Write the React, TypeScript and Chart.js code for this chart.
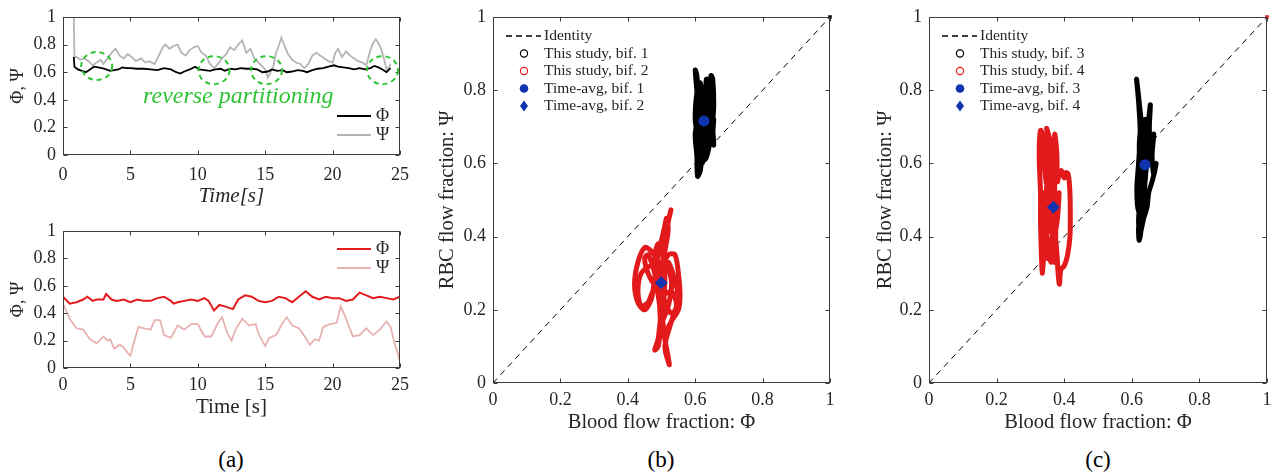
import React, { useEffect, useRef } from "react";
import { Chart, registerables } from "chart.js";
Chart.register(...registerables);

type Pt = [number, number];

// ---------------- data ----------------
const timeTicks = [0, 5, 10, 15, 20, 25];
const timeTickLabels = ["0", "5", "10", "15", "20", "25"];
const fracTicks = [0, 0.2, 0.4, 0.6, 0.8, 1];
const fracTickLabels = ["0", "0.2", "0.4", "0.6", "0.8", "1"];

// panel (a) top: bifurcation with reverse partitioning (time [s], value)
const phiTop: Pt[] = [
  [0.8, 0.71], [0.85, 0.64], [1.1, 0.62], [1.4, 0.61], [1.7, 0.6], [2.0, 0.62], [2.3, 0.64], [2.6, 0.635],
  [2.9, 0.63], [3.2, 0.62], [3.5, 0.61], [3.8, 0.615], [4.1, 0.62], [4.4, 0.635], [4.7, 0.63], [5.0, 0.63],
  [5.5, 0.625], [6.0, 0.625], [6.5, 0.62], [7.0, 0.615], [7.5, 0.63], [8.0, 0.62], [8.4, 0.6], [8.7, 0.59],
  [9.0, 0.605], [9.4, 0.62], [9.8, 0.64], [10.1, 0.62], [10.5, 0.615], [10.9, 0.61], [11.3, 0.62], [11.7, 0.625],
  [12.0, 0.61], [12.4, 0.625], [12.8, 0.62], [13.2, 0.63], [13.6, 0.625], [14.0, 0.625], [14.4, 0.62], [14.8, 0.6],
  [15.2, 0.605], [15.5, 0.62], [15.9, 0.61], [16.3, 0.615], [16.6, 0.6], [17.0, 0.605], [17.4, 0.615], [17.8, 0.61],
  [18.1, 0.6], [18.5, 0.615], [18.9, 0.625], [19.3, 0.63], [19.7, 0.64], [20.1, 0.65], [20.4, 0.64], [20.8, 0.635],
  [21.2, 0.63], [21.6, 0.62], [22.0, 0.63], [22.4, 0.62], [22.8, 0.63], [23.1, 0.645], [23.4, 0.635], [23.7, 0.62],
  [24.0, 0.6], [24.3, 0.63],
];
const psiTop: Pt[] = [
  [0.8, 1.0], [0.85, 0.71], [1.0, 0.71], [1.3, 0.69], [1.6, 0.7], [1.9, 0.68], [2.2, 0.65], [2.5, 0.67],
  [2.8, 0.69], [3.0, 0.66], [3.3, 0.7], [3.6, 0.74], [3.9, 0.77], [4.2, 0.72], [4.5, 0.7], [4.8, 0.73],
  [5.1, 0.71], [5.4, 0.68], [5.8, 0.7], [6.1, 0.67], [6.4, 0.68], [6.8, 0.66], [7.1, 0.72], [7.4, 0.78],
  [7.6, 0.8], [7.9, 0.77], [8.2, 0.79], [8.5, 0.8], [8.8, 0.74], [9.1, 0.72], [9.4, 0.76], [9.7, 0.78],
  [10.0, 0.79], [10.3, 0.74], [10.6, 0.72], [10.9, 0.66], [11.2, 0.63], [11.5, 0.66], [11.8, 0.7], [12.1, 0.73],
  [12.4, 0.78], [12.7, 0.76], [13.0, 0.8], [13.3, 0.83], [13.6, 0.74], [13.9, 0.77], [14.2, 0.7], [14.5, 0.67],
  [14.8, 0.64], [15.0, 0.62], [15.2, 0.56], [15.4, 0.6], [15.6, 0.64], [15.8, 0.74], [16.0, 0.79], [16.2, 0.85],
  [16.4, 0.8], [16.7, 0.73], [17.0, 0.69], [17.3, 0.67], [17.6, 0.66], [17.9, 0.63], [18.2, 0.66], [18.5, 0.72],
  [18.8, 0.74], [19.1, 0.72], [19.4, 0.7], [19.7, 0.68], [20.0, 0.67], [20.2, 0.74], [20.4, 0.77], [20.7, 0.71],
  [21.0, 0.75], [21.3, 0.72], [21.6, 0.7], [21.9, 0.68], [22.2, 0.67], [22.5, 0.65], [22.8, 0.76], [23.0, 0.81],
  [23.2, 0.84], [23.4, 0.81], [23.6, 0.77], [23.8, 0.7], [24.0, 0.62], [24.2, 0.64], [24.3, 0.66],
];
// centres (time, value) of the dashed "reverse partitioning" circles
const reverseCentres: Pt[] = [[2.5, 0.645], [11.2, 0.615], [15.1, 0.615], [23.7, 0.615]];

// panel (a) bottom
const phiBottom: Pt[] = [
  [0, 0.52], [0.5, 0.47], [1.0, 0.48], [1.5, 0.5], [1.8, 0.52], [2.2, 0.49], [2.5, 0.5], [3.0, 0.5],
  [3.2, 0.54], [3.6, 0.5], [4.0, 0.49], [4.5, 0.5], [5.0, 0.48], [5.5, 0.5], [6.0, 0.49], [6.5, 0.49],
  [7.0, 0.51], [7.5, 0.52], [8.0, 0.49], [8.2, 0.47], [8.5, 0.48], [9.0, 0.49], [9.5, 0.5], [10.0, 0.49],
  [10.5, 0.51], [10.8, 0.49], [11.2, 0.42], [11.6, 0.46], [12.0, 0.45], [12.6, 0.43], [13.0, 0.5], [13.5, 0.53],
  [14.0, 0.52], [14.5, 0.49], [15.0, 0.48], [15.5, 0.49], [16.0, 0.52], [16.5, 0.51], [17.0, 0.48], [17.5, 0.52],
  [18.0, 0.56], [18.5, 0.52], [19.0, 0.5], [19.5, 0.52], [20.0, 0.51], [20.5, 0.51], [21.0, 0.49], [21.5, 0.5],
  [22.0, 0.55], [22.5, 0.53], [23.0, 0.51], [23.5, 0.52], [24.0, 0.51], [24.5, 0.5], [25.0, 0.52],
];
const psiBottom: Pt[] = [
  [0, 0.47], [0.5, 0.36], [1.0, 0.29], [1.5, 0.28], [2.0, 0.21], [2.5, 0.18], [3.0, 0.23], [3.3, 0.2],
  [3.5, 0.21], [3.8, 0.14], [4.2, 0.17], [4.5, 0.15], [4.8, 0.11], [5.0, 0.09], [5.3, 0.2], [5.6, 0.3],
  [6.0, 0.29], [6.5, 0.28], [6.8, 0.35], [7.2, 0.35], [7.5, 0.24], [8.0, 0.22], [8.5, 0.31], [9.0, 0.28],
  [9.5, 0.32], [10.0, 0.32], [10.5, 0.23], [11.0, 0.23], [11.5, 0.33], [11.8, 0.37], [12.2, 0.25], [12.5, 0.2],
  [12.8, 0.28], [13.3, 0.36], [13.8, 0.31], [14.3, 0.32], [14.5, 0.25], [15.0, 0.16], [15.3, 0.22], [15.8, 0.24],
  [16.3, 0.33], [16.6, 0.37], [17.0, 0.31], [17.5, 0.29], [18.0, 0.22], [18.3, 0.17], [18.7, 0.21], [19.0, 0.2],
  [19.3, 0.3], [19.8, 0.32], [20.3, 0.33], [20.6, 0.45], [21.0, 0.36], [21.5, 0.23], [22.0, 0.24], [22.5, 0.29],
  [23.0, 0.24], [23.5, 0.28], [24.0, 0.34], [24.3, 0.3], [24.6, 0.18], [25.0, 0.05],
];

// panels (b), (c): (Phi, Psi) trajectories
const bif1: Pt[] = [
  [0.62, 0.72], [0.61, 0.78], [0.605, 0.84], [0.6, 0.855], [0.605, 0.8], [0.61, 0.74], [0.6, 0.68], [0.605, 0.62],
  [0.607, 0.565], [0.615, 0.58], [0.62, 0.63], [0.625, 0.7], [0.63, 0.76], [0.633, 0.83], [0.64, 0.8], [0.645, 0.73],
  [0.65, 0.68], [0.655, 0.65], [0.65, 0.72], [0.645, 0.78], [0.647, 0.84], [0.652, 0.83], [0.655, 0.76], [0.65, 0.7],
  [0.64, 0.64], [0.63, 0.61], [0.62, 0.64], [0.615, 0.7], [0.61, 0.76], [0.605, 0.79], [0.6, 0.72], [0.61, 0.66],
  [0.62, 0.6], [0.63, 0.65], [0.625, 0.71], [0.62, 0.77], [0.63, 0.81], [0.64, 0.75], [0.645, 0.69], [0.64, 0.65],
  [0.63, 0.62], [0.62, 0.66], [0.61, 0.73], [0.605, 0.8], [0.615, 0.82], [0.625, 0.74], [0.635, 0.78], [0.64, 0.7],
  [0.635, 0.63], [0.625, 0.68], [0.63, 0.75], [0.64, 0.83], [0.645, 0.76], [0.65, 0.69], [0.655, 0.72], [0.648, 0.66],
  [0.638, 0.7], [0.628, 0.66], [0.615, 0.62], [0.61, 0.7], [0.62, 0.75], [0.628, 0.79],
];
const bif2: Pt[] = [
  [0.5, 0.27], [0.49, 0.33], [0.47, 0.36], [0.45, 0.37], [0.43, 0.33], [0.42, 0.27], [0.43, 0.22], [0.45, 0.2],
  [0.47, 0.23], [0.48, 0.29], [0.49, 0.35], [0.5, 0.39], [0.51, 0.43], [0.515, 0.45], [0.52, 0.42], [0.51, 0.36],
  [0.5, 0.31], [0.52, 0.35], [0.54, 0.35], [0.55, 0.3], [0.555, 0.24], [0.55, 0.2], [0.53, 0.17], [0.51, 0.14],
  [0.5, 0.19], [0.49, 0.12], [0.48, 0.09], [0.49, 0.1], [0.5, 0.16], [0.52, 0.21], [0.53, 0.27], [0.52, 0.31],
  [0.5, 0.29], [0.48, 0.27], [0.46, 0.3], [0.45, 0.34], [0.46, 0.35], [0.48, 0.3], [0.49, 0.24], [0.5, 0.18],
  [0.51, 0.12], [0.52, 0.07], [0.523, 0.05], [0.51, 0.1], [0.53, 0.17], [0.55, 0.23], [0.54, 0.28], [0.52, 0.33],
  [0.51, 0.3], [0.47, 0.32], [0.44, 0.3], [0.43, 0.25], [0.44, 0.21], [0.46, 0.22], [0.48, 0.26], [0.5, 0.24],
  [0.53, 0.25], [0.545, 0.21], [0.53, 0.19], [0.51, 0.22], [0.5, 0.3], [0.505, 0.36], [0.49, 0.38], [0.48, 0.34],
  [0.49, 0.28], [0.495, 0.2], [0.5, 0.13], [0.505, 0.2], [0.51, 0.28], [0.51, 0.38], [0.52, 0.44], [0.528, 0.473],
];
const bif3: Pt[] = [
  [0.64, 0.6], [0.63, 0.55], [0.625, 0.48], [0.62, 0.42], [0.622, 0.39], [0.63, 0.44], [0.635, 0.52], [0.64, 0.58],
  [0.635, 0.66], [0.625, 0.74], [0.618, 0.8], [0.614, 0.83], [0.62, 0.77], [0.625, 0.68], [0.62, 0.6], [0.615, 0.53],
  [0.62, 0.47], [0.63, 0.5], [0.64, 0.56], [0.645, 0.65], [0.65, 0.72], [0.655, 0.76], [0.652, 0.7], [0.655, 0.63],
  [0.66, 0.66], [0.665, 0.68], [0.66, 0.62], [0.665, 0.57], [0.672, 0.6], [0.668, 0.58], [0.66, 0.55], [0.65, 0.52],
  [0.645, 0.48], [0.635, 0.45], [0.625, 0.41], [0.62, 0.44], [0.625, 0.5], [0.635, 0.56], [0.64, 0.62], [0.645, 0.68],
  [0.64, 0.72], [0.63, 0.64], [0.62, 0.58], [0.615, 0.52], [0.625, 0.49], [0.635, 0.55], [0.645, 0.6], [0.64, 0.66],
  [0.628, 0.7], [0.622, 0.64], [0.628, 0.56], [0.632, 0.47], [0.628, 0.42], [0.635, 0.5], [0.642, 0.58], [0.65, 0.64],
];
const bif4: Pt[] = [
  [0.368, 0.48], [0.36, 0.55], [0.35, 0.62], [0.34, 0.67], [0.33, 0.69], [0.326, 0.62], [0.33, 0.52], [0.33, 0.44],
  [0.332, 0.37], [0.335, 0.3], [0.34, 0.36], [0.345, 0.47], [0.35, 0.58], [0.352, 0.67], [0.348, 0.696], [0.358, 0.66],
  [0.362, 0.56], [0.365, 0.45], [0.368, 0.36], [0.372, 0.33], [0.375, 0.42], [0.372, 0.52], [0.37, 0.62], [0.372, 0.68],
  [0.378, 0.63], [0.38, 0.55], [0.385, 0.57], [0.392, 0.58], [0.4, 0.56], [0.405, 0.575], [0.412, 0.57], [0.417, 0.52],
  [0.418, 0.45], [0.417, 0.4], [0.41, 0.35], [0.4, 0.32], [0.39, 0.31], [0.386, 0.27], [0.382, 0.3], [0.378, 0.36],
  [0.37, 0.42], [0.36, 0.38], [0.35, 0.34], [0.342, 0.38], [0.336, 0.45], [0.34, 0.52], [0.35, 0.5], [0.358, 0.44],
  [0.366, 0.4], [0.36, 0.48], [0.345, 0.56], [0.338, 0.64], [0.342, 0.68], [0.355, 0.62], [0.365, 0.56], [0.358, 0.5],
  [0.348, 0.42], [0.352, 0.36], [0.362, 0.33], [0.37, 0.38], [0.378, 0.46], [0.385, 0.52], [0.38, 0.45], [0.372, 0.4],
];
const avgB: Pt[] = [[0.626, 0.716], [0.499, 0.274]];
const avgC: Pt[] = [[0.639, 0.596], [0.368, 0.48]];
const startPoint: Pt[] = [[1, 1]];
const identity: Pt[] = [[0, 0], [1, 1]];

// ---------------- styles ----------------
const FONT = "'Liberation Serif', 'Times New Roman', Times, serif";
const TXT = "#262626";
const AXC = "#3c3c3c";
const RED = "#e31a1c";
const BLUE = "#1034b0";
const GREEN = "#2fc435";

const toXY = (a: Pt[]) => a.map(([x, y]) => ({ x, y }));

function axis(o: any) {
  return {
    type: "linear",
    min: o.min,
    max: o.max,
    afterBuildTicks: (s: any) => {
      s.ticks = o.ticks.map((v: number) => ({ value: v }));
    },
    ticks: {
      padding: o.tickPad,
      color: TXT,
      font: { family: FONT, size: 18 },
      maxRotation: 0,
      autoSkip: false,
      callback: (_v: any, i: number) => o.labels[i],
    },
    grid: { display: false, drawTicks: false },
    border: { display: false },
    title: {
      display: true,
      text: o.title,
      color: TXT,
      font: { family: FONT, size: o.titleSize, style: o.italic ? "italic" : "normal" },
      padding: o.titlePad,
    },
    afterFit: (s: any) => {
      if (o.horizontal) s.height = o.size;
      else s.width = o.size;
      s.paddingLeft = 0;
      s.paddingRight = 0;
      s.paddingTop = 0;
      s.paddingBottom = 0;
    },
  };
}

const boxPlugin = {
  id: "boxTicks",
  afterDatasetsDraw(chart: any) {
    const { ctx, chartArea, scales } = chart;
    const l = Math.round(chartArea.left) + 0.5;
    const r = Math.round(chartArea.right) - 0.5;
    const t = Math.round(chartArea.top) + 0.5;
    const b = Math.round(chartArea.bottom) - 0.5;
    ctx.save();
    ctx.strokeStyle = AXC;
    ctx.lineWidth = 1;
    ctx.setLineDash([]);
    ctx.strokeRect(l, t, r - l, b - t);
    const len = 4;
    ctx.beginPath();
    scales.x.ticks.forEach((tk: any) => {
      const px = Math.round(scales.x.getPixelForValue(tk.value)) + 0.5;
      ctx.moveTo(px, b); ctx.lineTo(px, b - len);
      ctx.moveTo(px, t); ctx.lineTo(px, t + len);
    });
    scales.y.ticks.forEach((tk: any) => {
      const py = Math.round(scales.y.getPixelForValue(tk.value)) + 0.5;
      ctx.moveTo(l, py); ctx.lineTo(l + len, py);
      ctx.moveTo(r, py); ctx.lineTo(r - len, py);
    });
    ctx.stroke();
    ctx.restore();
  },
};

const legendPlugin = {
  id: "figLegend",
  afterDraw(chart: any, _a: any, opts: any) {
    const { ctx, chartArea } = chart;
    const items = chart.data.datasets.filter((d: any) => d.legendKind);
    ctx.save();
    items.forEach((d: any, i: number) => {
      const y = chartArea.top + opts.y0 + i * opts.dy;
      const x = chartArea.left + opts.x0;
      const c = d.legendColor || d.borderColor;
      ctx.strokeStyle = c;
      ctx.fillStyle = c;
      const mx = x + opts.mx;
      if (d.legendKind === "line") {
        ctx.lineWidth = d.borderWidth;
        ctx.setLineDash([]);
        ctx.beginPath(); ctx.moveTo(x, y); ctx.lineTo(x + opts.len, y); ctx.stroke();
      } else if (d.legendKind === "dash") {
        ctx.lineWidth = 1.3;
        ctx.setLineDash([6, 4]);
        ctx.beginPath(); ctx.moveTo(x, y); ctx.lineTo(x + opts.len, y); ctx.stroke();
        ctx.setLineDash([]);
      } else if (d.legendKind === "open") {
        ctx.lineWidth = 1.2;
        ctx.beginPath(); ctx.arc(mx, y, 3.6, 0, Math.PI * 2); ctx.stroke();
      } else if (d.legendKind === "dot") {
        ctx.beginPath(); ctx.arc(mx, y, 4.3, 0, Math.PI * 2); ctx.fill();
      } else if (d.legendKind === "diamond") {
        ctx.beginPath();
        ctx.moveTo(mx, y - 5.5); ctx.lineTo(mx + 4, y); ctx.lineTo(mx, y + 5.5); ctx.lineTo(mx - 4, y);
        ctx.closePath(); ctx.fill();
      }
      ctx.fillStyle = TXT;
      ctx.font = `${opts.size}px ${FONT}`;
      ctx.textBaseline = "middle";
      ctx.textAlign = "left";
      ctx.fillText(d.label, x + opts.tx, y);
    });
    ctx.restore();
  },
};

const annotPlugin = {
  id: "reverseAnnot",
  afterDatasetsDraw(chart: any) {
    const { ctx, scales } = chart;
    ctx.save();
    ctx.strokeStyle = GREEN;
    ctx.lineWidth = 2;
    ctx.setLineDash([5, 4]);
    reverseCentres.forEach(([t, v]) => {
      ctx.beginPath();
      ctx.ellipse(scales.x.getPixelForValue(t), scales.y.getPixelForValue(v), 15.5, 14, 0, 0, Math.PI * 2);
      ctx.stroke();
    });
    ctx.setLineDash([]);
    ctx.fillStyle = GREEN;
    ctx.font = `italic 24px ${FONT}`;
    ctx.textAlign = "center";
    ctx.textBaseline = "middle";
    ctx.fillText("reverse partitioning", scales.x.getPixelForValue(13.0), scales.y.getPixelForValue(0.42));
    ctx.restore();
  },
};

function lineDs(label: string, data: Pt[], color: string, width: number) {
  return {
    label,
    data: toXY(data),
    showLine: true,
    borderColor: color,
    backgroundColor: color,
    borderWidth: width,
    pointRadius: 0,
    tension: 0,
    legendKind: "line",
  };
}

function timeConfig(top: boolean) {
  return {
    type: "scatter",
    data: {
      datasets: top
        ? [lineDs("Φ", phiTop, "#000000", 1.8), lineDs("Ψ", psiTop, "#b5b5b5", 1.8)]
        : [lineDs("Φ", phiBottom, RED, 2), lineDs("Ψ", psiBottom, "#e8b2b2", 1.8)],
    },
    options: {
      animation: false,
      responsive: false,
      layout: { padding: { left: 0, top: top ? 17 : 21, right: 20, bottom: 0 } },
      plugins: {
        legend: { display: false },
        tooltip: { enabled: false },
        figLegend: { x0: 274, len: 34, tx: 39, mx: 0, y0: top ? 99 : 18, dy: 19, size: 18 },
      },
      scales: {
        x: axis({
          min: 0, max: 25, ticks: timeTicks, labels: timeTickLabels,
          title: top ? "Time[s]" : "Time [s]", italic: top, titleSize: 21,
          titlePad: { top: 0, bottom: top ? 1 : 5 }, size: top ? 55 : 57, tickPad: top ? 9 : 6, horizontal: true,
        }),
        y: axis({
          min: 0, max: 1, ticks: fracTicks, labels: fracTickLabels,
          title: "Φ, Ψ", titleSize: 18, titlePad: { top: 7, bottom: 0 }, size: 63, tickPad: 7, horizontal: false,
        }),
      },
    },
    plugins: top ? [boxPlugin, legendPlugin, annotPlugin] : [boxPlugin, legendPlugin],
  };
}

function fracConfig(panel: "b" | "c") {
  const isB = panel === "b";
  const trA = isB ? bif1 : bif3;
  const trB = isB ? bif2 : bif4;
  const avg = isB ? avgB : avgC;
  const nA = isB ? "1" : "3";
  const nB = isB ? "2" : "4";
  const traj = (label: string, data: Pt[], color: string) => ({
    label,
    data: toXY(data),
    showLine: true,
    borderColor: color,
    backgroundColor: color,
    borderWidth: 5,
    borderJoinStyle: "round",
    borderCapStyle: "round",
    pointRadius: 0,
    tension: 0.3,
    order: 2,
    legendKind: "open",
  });
  return {
    type: "scatter",
    data: {
      datasets: [
        {
          label: "Identity", data: toXY(identity), showLine: true, borderColor: "#000000",
          borderWidth: 1, borderDash: [6, 5], pointRadius: 0, order: 3, legendKind: "dash",
        },
        traj(`This study, bif. ${nA}`, trA, "#000000"),
        traj(`This study, bif. ${nB}`, trB, RED),
        {
          label: `Time-avg, bif. ${nA}`, data: toXY([avg[0]]), pointStyle: "circle", pointRadius: 5.5,
          backgroundColor: BLUE, borderColor: BLUE, borderWidth: 0, order: 0, legendKind: "dot",
        },
        {
          label: `Time-avg, bif. ${nB}`, data: toXY([avg[1]]), pointStyle: "rectRot", pointRadius: 6.5,
          backgroundColor: BLUE, borderColor: BLUE, borderWidth: 0, order: 0, legendKind: "diamond",
        },
        {
          label: "start", data: toXY(startPoint), pointStyle: "rect", pointRadius: 2.5, order: 1,
          backgroundColor: isB ? "#000000" : RED, borderColor: isB ? "#000000" : RED, borderWidth: 0, clip: false,
        },
      ],
    },
    options: {
      animation: false,
      responsive: false,
      layout: { padding: { left: 0, top: 17, right: isB ? 20 : 10, bottom: 0 } },
      plugins: {
        legend: { display: false },
        tooltip: { enabled: false },
        figLegend: { x0: 13, len: 35, tx: 38, mx: 18, y0: 19, dy: 17.5, size: 15.5 },
      },
      scales: {
        x: axis({
          min: 0, max: 1, ticks: fracTicks, labels: fracTickLabels, title: "Blood flow fraction: Φ",
          titleSize: 20.5, titlePad: { top: 0, bottom: 10 }, size: 62, tickPad: 6, horizontal: true,
        }),
        y: axis({
          min: 0, max: 1, ticks: fracTicks, labels: fracTickLabels, title: "RBC flow fraction: Ψ",
          titleSize: 20.5, titlePad: { top: isB ? 5 : 7, bottom: 0 }, size: 63, tickPad: 7, horizontal: false,
        }),
      },
    },
    plugins: [boxPlugin, legendPlugin],
  };
}

function ChartBox(props: { left: number; top: number; width: number; height: number; make: () => any }) {
  const ref = useRef<HTMLCanvasElement>(null);
  useEffect(() => {
    const chart = new Chart(ref.current as HTMLCanvasElement, props.make());
    return () => chart.destroy();
  }, []);
  return (
    <canvas
      ref={ref}
      width={props.width}
      height={props.height}
      style={{ position: "absolute", left: props.left, top: props.top, width: props.width, height: props.height }}
    />
  );
}

const subLabel = (text: string, cx: number) => (
  <div
    style={{
      position: "absolute", left: cx, top: 460, transform: "translate(-50%, -50%)",
      fontFamily: FONT, fontSize: 23, color: "#000", whiteSpace: "nowrap",
    }}
  >
    {text}
  </div>
);

export default function App() {
  return (
    <div style={{ position: "absolute", left: 0, top: 0, width: 1277, height: 475, background: "#ffffff", overflow: "hidden" }}>
      <ChartBox left={0} top={0} width={420} height={210} make={() => timeConfig(true)} />
      <ChartBox left={0} top={210} width={420} height={215} make={() => timeConfig(false)} />
      <ChartBox left={430} top={0} width={420} height={445} make={() => fracConfig("b")} />
      <ChartBox left={866} top={0} width={411} height={445} make={() => fracConfig("c")} />
      {subLabel("(a)", 231)}
      {subLabel("(b)", 661)}
      {subLabel("(c)", 1098)}
    </div>
  );
}
